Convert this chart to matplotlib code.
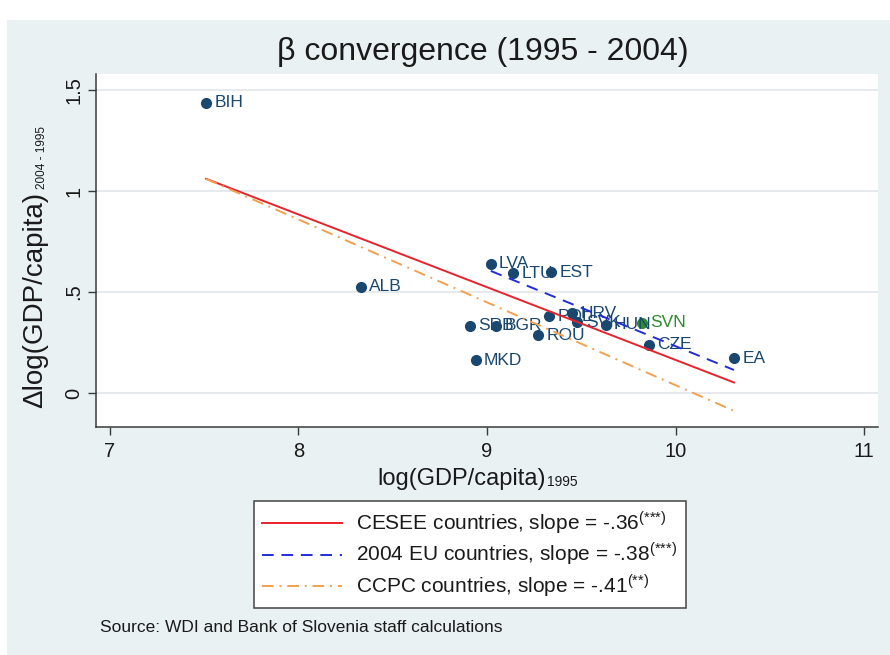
import matplotlib
matplotlib.use("Agg")
import matplotlib.pyplot as plt
from matplotlib.patches import Rectangle
import numpy as np

plt.rcParams['font.family'] = ['Liberation Sans', 'DejaVu Sans']
plt.rcParams['mathtext.fontset'] = 'custom'
plt.rcParams['mathtext.rm'] = 'Liberation Sans'
plt.rcParams['mathtext.it'] = 'Liberation Sans:italic'
plt.rcParams['mathtext.bf'] = 'Liberation Sans:bold'

# ---- data ----
countries = ["BIH", "ALB", "SRB", "MKD", "LVA", "BGR", "LTU", "ROU", "POL",
             "EST", "HRV", "SVK", "HUN", "SVN", "CZE", "EA"]
log_gdp_1995 = [7.51, 8.33, 8.91, 8.94, 9.02, 9.05, 9.14, 9.27, 9.33,
                9.34, 9.45, 9.48, 9.63, 9.82, 9.86, 10.31]
dlog_gdp = [1.436, 0.525, 0.332, 0.163, 0.639, 0.332, 0.594, 0.287, 0.381,
            0.599, 0.396, 0.351, 0.337, 0.347, 0.240, 0.173]
highlight = ["SVN"]

fit_labels = ["CESEE countries, slope = -.36$^{\\mathrm{(}{*}{*}{*}\\mathrm{)}}$",
              "2004 EU countries, slope = -.38$^{\\mathrm{(}{*}{*}{*}\\mathrm{)}}$",
              "CCPC countries, slope = -.41$^{\\mathrm{(}{*}{*}\\mathrm{)}}$"]
fit_slopes = [-0.36, -0.38, -0.41]
fit_intercepts = [3.764, 4.032, 4.139]
fit_members = [
    countries,
    ["LVA", "LTU", "EST", "POL", "SVK", "HUN", "SVN", "CZE", "EA"],
    ["BIH", "ALB", "SRB", "MKD", "HRV", "EA"],
]

x_ticks = [7, 8, 9, 10, 11]
x_ticklabels = ["7", "8", "9", "10", "11"]
y_ticks = [0, 0.5, 1, 1.5]
y_ticklabels = ["0", ".5", "1", "1.5"]

title = "\u03b2 convergence (1995 - 2004)"
x_label, x_label_sub = "log(GDP/capita)", "1995"
y_label, y_label_sub = "\u0394log(GDP/capita)", "2004 - 1995"
source = "Source: WDI and Bank of Slovenia staff calculations"

# ---- styles ----
navy = "#1a476f"
green = "#2e8b2e"
txt = "#1a1a1a"
fit_colors = ["#e8232b", "#1f2ed6", "#f2a050"]
fit_styles = ["-", (0, (6, 4)), (0, (6, 3, 1, 3))]
bg = "#eaf1f3"

W, H = 890, 655
fig = plt.figure(figsize=(W / 100, H / 100), dpi=100)
fig.patch.set_facecolor("white")
fig.patches.append(Rectangle((7 / W, 0), 1, 1 - 20 / H, transform=fig.transFigure,
                             facecolor=bg, edgecolor="none", zorder=-10))

ax = fig.add_axes([96 / W, 1 - 427 / H, (878 - 96) / W, (427 - 74) / H])
ax.set_facecolor("white")
ax.set_xlim(6.926, 11.074)
ax.set_ylim(-0.168, 1.579)

for s in ["top", "right"]:
    ax.spines[s].set_visible(False)
for s in ["left", "bottom"]:
    ax.spines[s].set_color("#3a3a3a")
    ax.spines[s].set_linewidth(1.1)

ax.set_xticks(x_ticks)
ax.set_xticklabels(x_ticklabels)
ax.set_yticks(y_ticks)
ax.set_yticklabels(y_ticklabels, rotation=90, va="center")
ax.tick_params(axis="both", direction="out", length=6, width=1, color="#3a3a3a",
               labelsize=14.5, labelcolor=txt)
ax.tick_params(axis="x", pad=5)
ax.tick_params(axis="y", pad=3)
ax.yaxis.grid(True, color="#e6eaec", linewidth=1.4)
ax.set_axisbelow(True)

# scatter points and labels
for c, xv, yv in zip(countries, log_gdp_1995, dlog_gdp):
    col = green if c in highlight else navy
    ax.plot([xv], [yv], marker="o", markersize=7, color=col, linestyle="none", zorder=3)
    ax.annotate(c, (xv, yv), xytext=(6, 0), textcoords="offset points",
                va="center", ha="left", fontsize=12.5, color=col, zorder=4)

# fitted lines
xmap = dict(zip(countries, log_gdp_1995))
handles = []
for lab, sl, ic, mem, col, ls in zip(fit_labels, fit_slopes, fit_intercepts,
                                      fit_members, fit_colors, fit_styles):
    xs = np.array([min(xmap[m] for m in mem), max(xmap[m] for m in mem)])
    h, = ax.plot(xs, ic + sl * xs, color=col, linestyle=ls, linewidth=1.4,
                 label=lab, zorder=5)
    handles.append(h)

# title
fig.text(0.543, 0.92, title, ha="center", va="center", fontsize=23, color=txt)

renderer = fig.canvas.get_renderer()

# x label with small subscript
tx = fig.text(377 / W, 1 - 476 / H, x_label, ha="left", va="center_baseline",
              fontsize=17, color=txt)
bb = tx.get_window_extent(renderer)
fig.text(bb.x1 / W + 1 / W, 1 - 486 / H, x_label_sub, ha="left", va="baseline",
         fontsize=10, color=txt)

# y label with small subscript
ty = fig.text(35 / W, 1 - 408 / H, y_label, ha="center", va="bottom", rotation=90,
              fontsize=20, color=txt)
bb = ty.get_window_extent(renderer)
fig.text(42 / W, bb.y1 / H + 3 / H, y_label_sub, ha="center", va="bottom", rotation=90,
         fontsize=8.5, color=txt)

leg = fig.legend(handles=handles, loc="upper center", bbox_to_anchor=(0.528, 1 - 501 / H),
                 bbox_transform=fig.transFigure, fontsize=15, frameon=True, fancybox=False,
                 edgecolor="#444444", facecolor="white", framealpha=1,
                 handlelength=3.8, handletextpad=0.7, borderpad=0.4, labelspacing=0.22,
                 borderaxespad=0)
leg.get_frame().set_linewidth(1.1)
for t in leg.get_texts():
    t.set_color(txt)

fig.text(100 / W, 1 - 628 / H, source, ha="left", va="center", fontsize=12.5, color=txt)

fig.savefig("out.png", dpi=100, facecolor=fig.get_facecolor())
